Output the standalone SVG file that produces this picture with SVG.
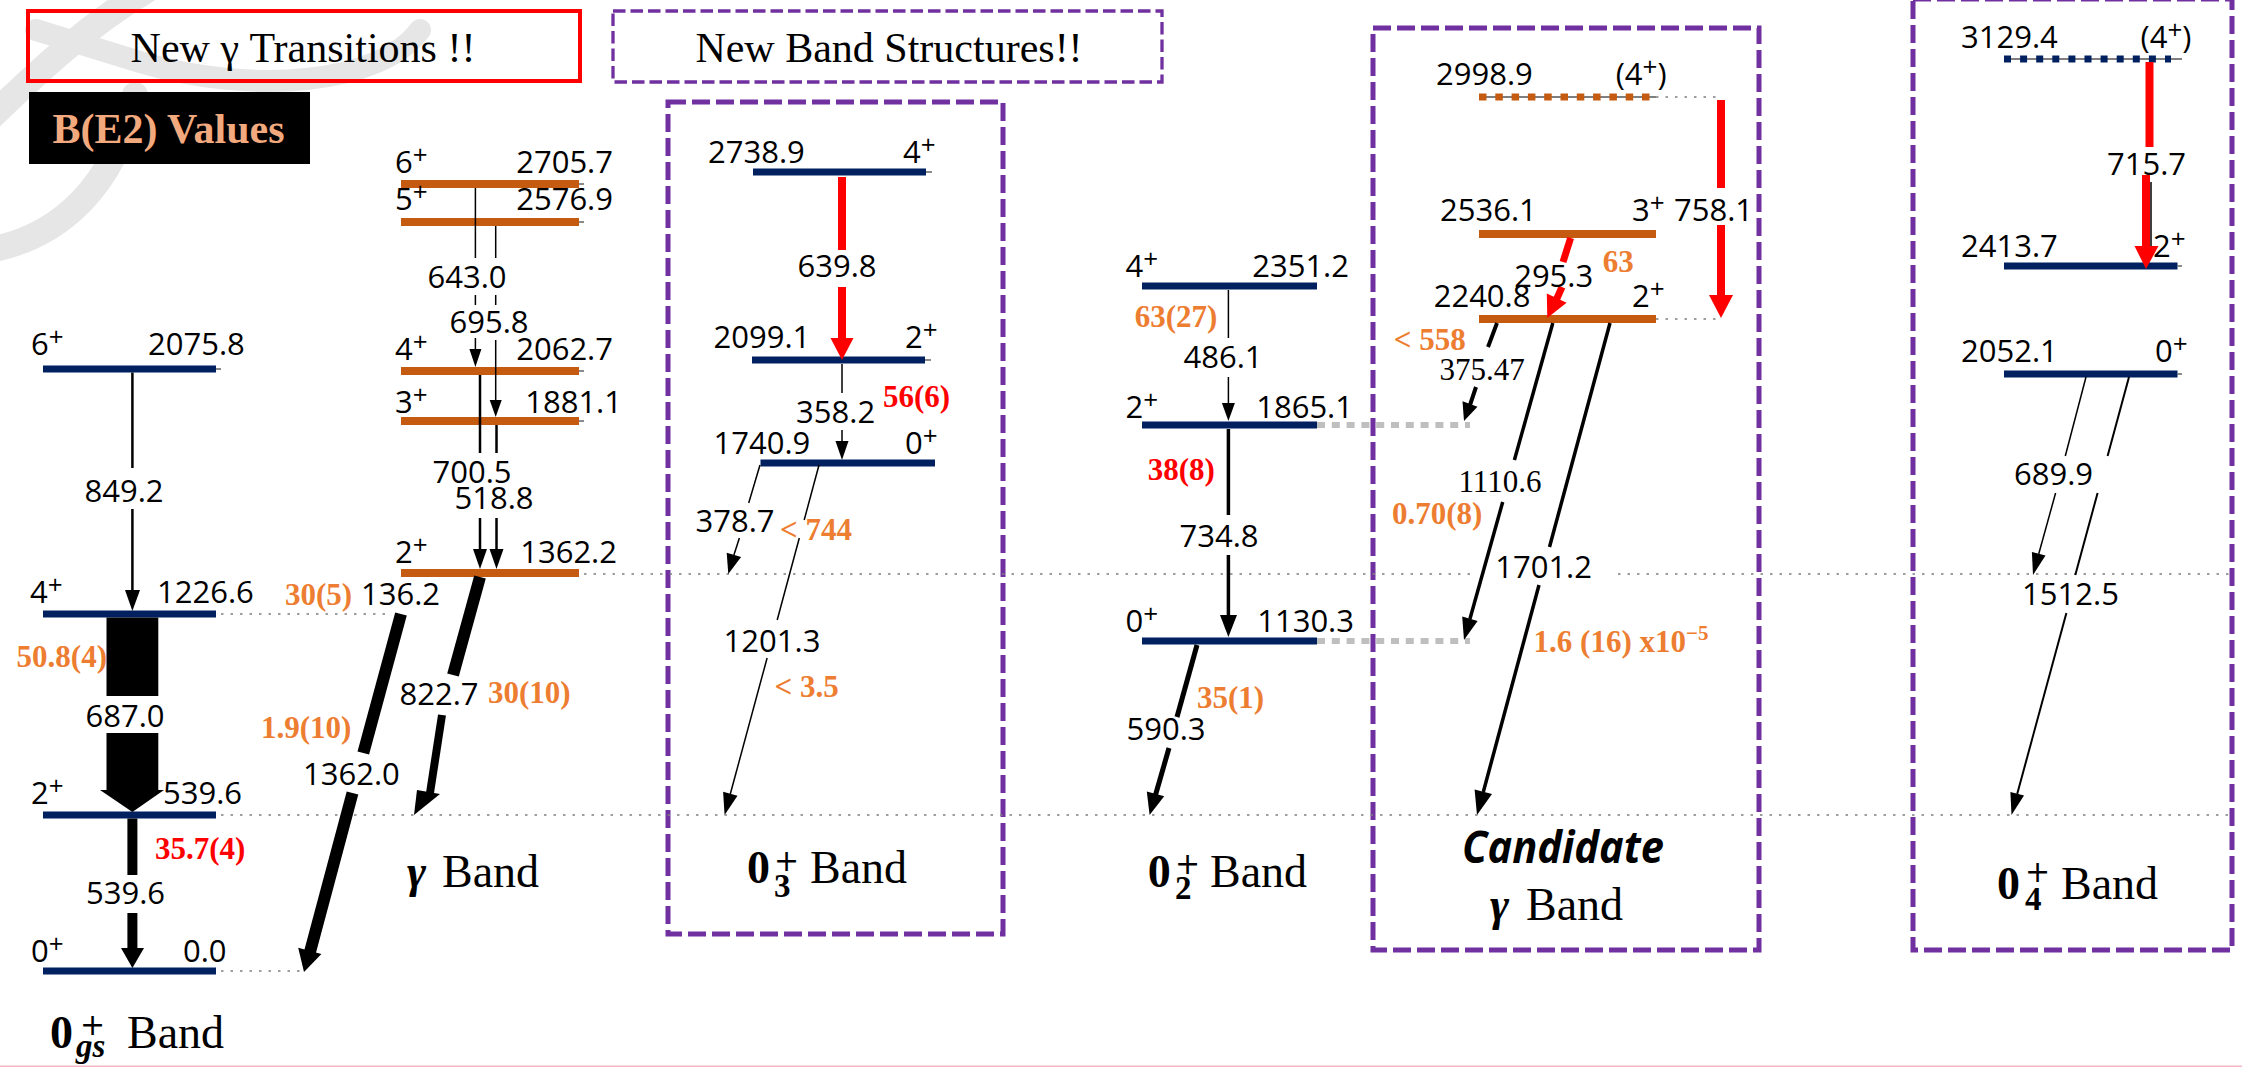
<svg xmlns="http://www.w3.org/2000/svg" width="2242" height="1067" viewBox="0 0 2242 1067">
<style>
  .bg { fill:#ffffff; }
  .wm { fill:none; stroke:#E6E6E6; stroke-linecap:round; }
  .box { fill:none; stroke:#7030A0; stroke-width:5; stroke-dasharray:18 6; }
  .tbox { fill:none; stroke:#7030A0; stroke-width:3.3; stroke-dasharray:12.5 5; }
  .lb { stroke:#002060; stroke-width:7; }
  .lo { stroke:#C55A11; stroke-width:8; }
  .tick { stroke:#404040; stroke-width:1.2; }
  .dot { stroke:#7F7F7F; stroke-width:1.5; stroke-dasharray:2.5 7; fill:none; }
  .gdot { stroke:#BFBFBF; stroke-width:6; stroke-dasharray:8 6.8; }
  .t1 { stroke:#000; stroke-width:1.5; }
  .t2 { stroke:#000; stroke-width:2.5; }
  .t3 { stroke:#000; stroke-width:3.5; }
  .t5 { stroke:#000; stroke-width:5; }
  .tr { stroke:#FF0000; stroke-width:8; }
  .hk { fill:#000; }
  .hr { fill:#FF0000; }
  .lab { font-family:"Open Sans","DejaVu Sans",sans-serif; font-size:31px; fill:#000; }
  .serif { font-family:"Liberation Serif","Times New Roman",serif; font-size:31px; fill:#000; }
  .sup { font-size:26px; }
  .val { font-family:"Liberation Serif","Times New Roman",serif; font-weight:bold; font-size:31px; }
  .or { fill:#ED7D31; }
  .rd { fill:#FF0000; }
  .mid { text-anchor:middle; }
  .end { text-anchor:end; }
  .bz { font-family:"Liberation Serif",serif; font-weight:bold; font-size:46px; fill:#000; }
  .bp { font-family:"DejaVu Sans",sans-serif; font-size:30px; fill:#000; }
  .bs { font-family:"Liberation Serif",serif; font-weight:bold; font-size:33px; fill:#000; }
  .bn { font-family:"Liberation Serif",serif; font-size:46px; fill:#000; }
  .title { font-family:"Liberation Serif",serif; font-size:42px; fill:#000; text-anchor:middle; }
</style>

<rect class="bg" x="0" y="0" width="2242" height="1067"/>

<!-- faint logo strokes in the top-left corner -->
<g id="logo-watermark">
  <path class="wm" stroke-width="26" d="M -10 118 C 30 80, 80 30, 150 -12"/>
  <path class="wm" stroke-width="22" d="M 36 30 L 140 62 C 250 95, 380 85, 420 30"/>
  <path class="wm" stroke-width="26" d="M -12 250 C 60 238, 115 185, 135 95"/>
</g>

<!-- headline boxes -->
<g id="note-new-transitions">
  <rect x="28" y="11" width="552" height="70" fill="none" stroke="#FF0000" stroke-width="4"/>
  <text class="title" x="303" y="62">New γ Transitions !!</text>
</g>
<g id="note-be2">
  <rect x="29" y="92" width="281" height="72" fill="#000"/>
  <text x="168.5" y="143" text-anchor="middle" font-family="Liberation Serif, serif" font-weight="bold" font-size="42" fill="#F2A97E">B(E2) Values</text>
</g>
<g id="note-new-bands">
  <rect class="tbox" x="613" y="11" width="549" height="71"/>
  <text class="title" x="889" y="62">New Band Structures!!</text>
</g>

<!-- dashed frames around the new bands -->
<rect id="frame-03" class="box" x="668" y="102" width="335" height="832"/>
<rect id="frame-cand" class="box" x="1373" y="28" width="386" height="922"/>
<rect id="frame-04" class="box" x="1913" y="-1" width="319" height="951"/>

<!-- level guide lines -->
<g id="guides">
  <line class="dot" x1="221" y1="614" x2="392" y2="614"/>
  <line class="dot" x1="221" y1="815" x2="2232" y2="815"/>
  <line class="dot" x1="221" y1="971" x2="304" y2="971"/>
  <line class="dot" x1="584" y1="574" x2="1475" y2="574"/>
  <line class="dot" x1="1618" y1="574" x2="2232" y2="574"/>
  <line class="dot" x1="1656" y1="97" x2="1721" y2="97"/>
  <line class="dot" x1="1656" y1="319" x2="1721" y2="319"/>
  <line class="gdot" x1="1317" y1="425" x2="1470" y2="425"/>
  <line class="gdot" x1="1317" y1="641" x2="1470" y2="641"/>
</g>

<!-- ground-state band -->
<g id="band-gs">
  <line class="lb" x1="43" y1="369" x2="216" y2="369"/>
  <line class="lb" x1="43" y1="614" x2="216" y2="614"/>
  <line class="lb" x1="43" y1="815" x2="216" y2="815"/>
  <line class="lb" x1="43" y1="971" x2="216" y2="971"/>
  <line class="tick" x1="216" y1="369" x2="221" y2="369"/>
  <text class="lab" x="31" y="355">6<tspan class="sup" dy="-9">+</tspan></text>
  <text class="lab" x="148" y="355">2075.8</text>
  <text class="lab" x="30" y="603">4<tspan class="sup" dy="-9">+</tspan></text>
  <text class="lab" x="157" y="603">1226.6</text>
  <text class="lab" x="31" y="804">2<tspan class="sup" dy="-9">+</tspan></text>
  <text class="lab" x="163" y="804">539.6</text>
  <text class="lab" x="31" y="962">0<tspan class="sup" dy="-9">+</tspan></text>
  <text class="lab" x="183" y="962">0.0</text>
  <text class="bz" x="50" y="1048">0</text>
  <text class="bp" x="80" y="1035">+</text>
  <text class="bs" x="76" y="1057" font-style="italic">gs</text>
  <text class="bn" x="127" y="1048">Band</text>
</g>

<!-- gamma band -->
<g id="band-gamma">
  <line class="lo" x1="401" y1="184" x2="579" y2="184"/>
  <line class="lo" x1="401" y1="222" x2="579" y2="222"/>
  <line class="lo" x1="401" y1="371" x2="579" y2="371"/>
  <line class="lo" x1="401" y1="421" x2="579" y2="421"/>
  <line class="lo" x1="401" y1="573" x2="579" y2="573"/>
  <line class="tick" x1="579" y1="184" x2="584" y2="184"/>
  <line class="tick" x1="579" y1="222" x2="584" y2="222"/>
  <line class="tick" x1="579" y1="371" x2="584" y2="371"/>
  <line class="tick" x1="579" y1="421" x2="584" y2="421"/>
  <text class="lab" x="395" y="173">6<tspan class="sup" dy="-9">+</tspan></text>
  <text class="lab end" x="613" y="173">2705.7</text>
  <text class="lab" x="395" y="210">5<tspan class="sup" dy="-9">+</tspan></text>
  <text class="lab end" x="613" y="210">2576.9</text>
  <text class="lab" x="395" y="360">4<tspan class="sup" dy="-9">+</tspan></text>
  <text class="lab end" x="613" y="360">2062.7</text>
  <text class="lab" x="395" y="413">3<tspan class="sup" dy="-9">+</tspan></text>
  <text class="lab end" x="622" y="413">1881.1</text>
  <text class="lab" x="395" y="563">2<tspan class="sup" dy="-9">+</tspan></text>
  <text class="lab end" x="617" y="563">1362.2</text>
  <text x="407" y="887" font-family="Liberation Serif, serif" font-weight="bold" font-style="italic" font-size="46">γ</text>
  <text class="bn" x="442" y="887">Band</text>
</g>

<!-- 0+3 band -->
<g id="band-03">
  <line class="lb" x1="753" y1="172" x2="926" y2="172"/>
  <line class="lb" x1="752" y1="360" x2="925" y2="360"/>
  <line class="lb" x1="760.5" y1="463" x2="935" y2="463"/>
  <line class="tick" x1="926" y1="172" x2="932" y2="172"/>
  <line class="tick" x1="925" y1="360" x2="931" y2="360"/>
  <text class="lab" x="708" y="163">2738.9</text>
  <text class="lab" x="903" y="163">4<tspan class="sup" dy="-9">+</tspan></text>
  <text class="lab" x="713.5" y="348">2099.1</text>
  <text class="lab" x="905" y="348">2<tspan class="sup" dy="-9">+</tspan></text>
  <text class="lab" x="713.5" y="454">1740.9</text>
  <text class="lab" x="905" y="454">0<tspan class="sup" dy="-9">+</tspan></text>
  <text class="bz" x="747" y="883">0</text>
  <text class="bp" x="774" y="871">+</text>
  <text class="bs" x="774" y="897">3</text>
  <text class="bn" x="810" y="883">Band</text>
</g>

<!-- 0+2 band -->
<g id="band-02">
  <line class="lb" x1="1142" y1="286" x2="1317" y2="286"/>
  <line class="lb" x1="1142" y1="425" x2="1317" y2="425"/>
  <line class="lb" x1="1142" y1="641" x2="1317" y2="641"/>
  <text class="lab" x="1125.5" y="277">4<tspan class="sup" dy="-9">+</tspan></text>
  <text class="lab end" x="1349" y="277">2351.2</text>
  <text class="lab" x="1125.5" y="418">2<tspan class="sup" dy="-9">+</tspan></text>
  <text class="lab end" x="1353" y="418">1865.1</text>
  <text class="lab" x="1125.5" y="632">0<tspan class="sup" dy="-9">+</tspan></text>
  <text class="lab end" x="1354" y="632">1130.3</text>
  <text class="bz" x="1147.7" y="887">0</text>
  <text class="bp" x="1175" y="874">+</text>
  <text class="bs" x="1175" y="899">2</text>
  <text class="bn" x="1210" y="887">Band</text>
</g>

<!-- candidate gamma band -->
<g id="band-cand">
  <line stroke="#000" stroke-width="1.2" x1="1479" y1="97" x2="1656" y2="97"/>
  <line stroke="#C55A11" stroke-width="7" stroke-dasharray="7.5 8.8" x1="1479" y1="97" x2="1656" y2="97"/>
  <line class="lo" x1="1479" y1="234" x2="1656" y2="234"/>
  <line class="lo" x1="1479" y1="319" x2="1656" y2="319"/>
  <text class="lab" x="1436" y="85">2998.9</text>
  <text class="lab" x="1615.7" y="85">(4<tspan class="sup" dy="-9">+</tspan><tspan dy="9">)</tspan></text>
  <text class="lab" x="1440" y="221">2536.1</text>
  <text class="lab" x="1632" y="221">3<tspan class="sup" dy="-9">+</tspan></text>
  <text class="lab" x="1433.7" y="307">2240.8</text>
  <text class="lab" x="1632" y="307">2<tspan class="sup" dy="-9">+</tspan></text>
  <text x="1563" y="863" text-anchor="middle" font-family="Open Sans, sans-serif" font-weight="bold" font-style="italic" font-size="44" textLength="202" lengthAdjust="spacingAndGlyphs">Candidate</text>
  <text x="1490" y="920" font-family="Liberation Serif, serif" font-weight="bold" font-style="italic" font-size="46">γ</text>
  <text class="bn" x="1526" y="920">Band</text>
</g>

<!-- 0+4 band -->
<g id="band-04">
  <line stroke="#000" stroke-width="1.2" x1="2004" y1="59" x2="2182" y2="59"/>
  <line stroke="#002060" stroke-width="7" stroke-dasharray="7 9.1" x1="2004" y1="59" x2="2171" y2="59"/>
  <line class="lb" x1="2004" y1="266" x2="2177.5" y2="266"/>
  <line class="lb" x1="2004" y1="374" x2="2177.5" y2="374"/>
  <line class="tick" x1="2177.5" y1="266" x2="2182" y2="266"/>
  <line class="tick" x1="2177.5" y1="374" x2="2182" y2="374"/>
  <text class="lab" x="1961" y="48">3129.4</text>
  <text class="lab" x="2140.6" y="48">(4<tspan class="sup" dy="-9">+</tspan><tspan dy="9">)</tspan></text>
  <text class="lab" x="1961" y="257">2413.7</text>
  <text class="lab" x="2153" y="257">2<tspan class="sup" dy="-9">+</tspan></text>
  <text class="lab" x="1961" y="362">2052.1</text>
  <text class="lab" x="2155" y="362">0<tspan class="sup" dy="-9">+</tspan></text>
  <text class="bz" x="1997" y="899">0</text>
  <text class="bp" x="2025" y="882">+</text>
  <text class="bs" x="2025" y="910">4</text>
  <text class="bn" x="2061" y="899">Band</text>
</g>

<!-- gamma-ray transitions -->
<g id="connectors">
  <!-- ground-state band -->
  <line class="t2" x1="132.4" y1="372.5" x2="132.4" y2="468"/>
  <line class="t2" x1="132.4" y1="509" x2="132.4" y2="592"/>
  <polygon class="hk" points="125,590 140,590 132.4,611"/>
  <polygon class="hk" points="106.5,617.5 158.3,617.5 158.3,696 106.5,696"/>
  <polygon class="hk" points="106.5,733 158.3,733 158.3,790 164,790 132.4,812 100,790 106.5,790"/>
  <line stroke="#000" stroke-width="10" x1="132.4" y1="818.5" x2="132.4" y2="875"/>
  <line stroke="#000" stroke-width="10" x1="132.4" y1="913" x2="132.4" y2="950"/>
  <polygon class="hk" points="121,948 144,948 132.4,968"/>

  <!-- gamma band in-band -->
  <line class="t1" x1="475.4" y1="188" x2="475.4" y2="258"/>
  <line class="t1" x1="475.4" y1="295" x2="475.4" y2="305"/>
  <line class="t1" x1="475.4" y1="338" x2="475.4" y2="350"/>
  <polygon class="hk" points="469.4,349 481.4,349 475.4,367"/>
  <line class="t1" x1="495.7" y1="226" x2="495.7" y2="258"/>
  <line class="t1" x1="495.7" y1="295" x2="495.7" y2="305"/>
  <line class="t1" x1="495.7" y1="340" x2="495.7" y2="402"/>
  <polygon class="hk" points="489.7,400 501.7,400 495.7,417"/>
  <line class="t2" x1="480" y1="375" x2="480" y2="453"/>
  <line class="t2" x1="480" y1="518" x2="480" y2="551"/>
  <polygon class="hk" points="473,549 487,549 480,569"/>
  <line class="t2" x1="496.5" y1="425" x2="496.5" y2="453"/>
  <line class="t2" x1="496.5" y1="518" x2="496.5" y2="551"/>
  <polygon class="hk" points="489.5,549 503.5,549 496.5,569"/>

  <!-- gamma band to ground band -->
  <line stroke="#000" stroke-width="12" x1="480" y1="577" x2="453" y2="675"/>
  <line stroke="#000" stroke-width="8" x1="442" y1="715" x2="430" y2="793"/>
  <polygon class="hk" points="417,790 440,794 414,815"/>
  <line stroke="#000" stroke-width="12" x1="401" y1="614" x2="363.3" y2="753"/>
  <line stroke="#000" stroke-width="12" x1="352.5" y1="793" x2="310" y2="952"/>
  <polygon class="hk" points="321.4,954 298.2,947.7 304,972"/>

  <!-- 0+3 band -->
  <line class="tr" x1="842" y1="177" x2="842" y2="250"/>
  <line class="tr" x1="842" y1="287" x2="842" y2="340"/>
  <polygon class="hr" points="830.5,338 853.5,338 842,360"/>
  <line class="t1" x1="842" y1="364" x2="842" y2="393"/>
  <line class="t1" x1="842" y1="430" x2="842" y2="442"/>
  <polygon class="hk" points="835.5,441 848.5,441 842,460"/>
  <line class="t1" x1="760" y1="465" x2="748.7" y2="503"/>
  <line class="t1" x1="739.4" y1="538" x2="733.9" y2="555"/>
  <polygon class="hk" points="741.1,556.9 726.7,552.7 728.3,574"/>
  <line class="t1" x1="819" y1="465" x2="804.2" y2="520"/>
  <line class="t1" x1="799.3" y1="538" x2="777.2" y2="620"/>
  <line class="t1" x1="767.1" y1="658" x2="730.3" y2="794"/>
  <polygon class="hk" points="737.5,795.8 723.1,791.8 724.6,815"/>

  <!-- 0+2 band -->
  <line class="t1" x1="1228.4" y1="290" x2="1228.4" y2="338"/>
  <line class="t1" x1="1228.4" y1="377" x2="1228.4" y2="405"/>
  <polygon class="hk" points="1221.9,403 1234.9,403 1228.4,421"/>
  <line class="t3" x1="1228.4" y1="429" x2="1228.4" y2="515"/>
  <line class="t3" x1="1228.4" y1="555" x2="1228.4" y2="617"/>
  <polygon class="hk" points="1220,615 1237,615 1228.4,637"/>
  <line class="t5" x1="1197" y1="645" x2="1177" y2="717"/>
  <line class="t5" x1="1169" y1="748" x2="1155.5" y2="795"/>
  <polygon class="hk" points="1164.2,796.2 1146.8,791.4 1149.6,815"/>

  <!-- candidate gamma band -->
  <line class="tr" x1="1721" y1="100" x2="1721" y2="188"/>
  <line class="tr" x1="1721" y1="225" x2="1721" y2="297"/>
  <polygon class="hr" points="1709,295 1733,295 1721,318"/>
  <line stroke="#FF0000" stroke-width="7" x1="1570.6" y1="238" x2="1563" y2="262"/>
  <line stroke="#FF0000" stroke-width="7" x1="1562" y1="287" x2="1556.7" y2="299"/>
  <polygon class="hr" points="1566.6,302.8 1546.8,293.4 1547.3,318"/>
  <line stroke="#000" stroke-width="4" x1="1497" y1="323" x2="1488" y2="347"/>
  <line stroke="#000" stroke-width="4" x1="1476" y1="387" x2="1470" y2="405"/>
  <polygon class="hk" points="1477.5,406.7 1462.5,401.3 1464,421"/>
  <line class="t3" x1="1552.8" y1="323" x2="1514.4" y2="460"/>
  <line class="t3" x1="1502.7" y1="502" x2="1469.9" y2="619"/>
  <polygon class="hk" points="1477.6,621 1462.2,616.6 1464,640"/>
  <line class="t3" x1="1610" y1="323" x2="1549.5" y2="547"/>
  <line class="t3" x1="1539" y1="585" x2="1483.3" y2="792"/>
  <polygon class="hk" points="1492,794.1 1474.6,789.5 1477,815"/>

  <!-- 0+4 band -->
  <line class="tr" x1="2149.5" y1="62" x2="2149.5" y2="147"/>
  <line class="t1" stroke="#555" x1="2151" y1="182" x2="2151" y2="250"/>
  <line class="tr" x1="2146" y1="175" x2="2146" y2="248"/>
  <polygon class="hr" points="2134.5,246 2158.5,246 2146,269"/>
  <line class="t1" x1="2086" y1="377" x2="2065.3" y2="456"/>
  <line class="t1" x1="2055.6" y1="493" x2="2038.7" y2="554"/>
  <polygon class="hk" points="2045.5,555.5 2031.9,551.9 2033,575"/>
  <line stroke="#000" stroke-width="2" x1="2129" y1="377" x2="2107.6" y2="456"/>
  <line stroke="#000" stroke-width="2" x1="2097.6" y1="493" x2="2075.3" y2="575"/>
  <line stroke="#000" stroke-width="2" x1="2066.4" y1="613" x2="2017.2" y2="794"/>
  <polygon class="hk" points="2024,795.5 2010.4,791.9 2011.5,815"/>
</g>

<!-- transition energies and B(E2) values -->
<g id="transition-labels">
  <text class="lab mid" x="124" y="502">849.2</text>
  <text class="lab mid" x="125" y="727">687.0</text>
  <text class="lab mid" x="125.5" y="904">539.6</text>
  <text class="lab mid" x="467" y="288">643.0</text>
  <text class="lab mid" x="489" y="333">695.8</text>
  <text class="lab mid" x="472" y="483">700.5</text>
  <text class="lab mid" x="494" y="509">518.8</text>
  <text class="lab" x="399.5" y="705">822.7</text>
  <text class="lab" x="361" y="605">136.2</text>
  <text class="lab" x="303" y="785">1362.0</text>
  <text class="lab mid" x="837" y="277">639.8</text>
  <text class="lab mid" x="835.6" y="423">358.2</text>
  <text class="lab mid" x="735" y="532">378.7</text>
  <text class="lab mid" x="772" y="652">1201.3</text>
  <text class="lab mid" x="1223" y="368">486.1</text>
  <text class="lab mid" x="1219" y="547">734.8</text>
  <text class="lab mid" x="1166" y="740">590.3</text>
  <text class="lab mid" x="1553.7" y="287">295.3</text>
  <text class="serif mid" x="1482" y="380">375.47</text>
  <text class="serif mid" x="1500" y="492">1110.6</text>
  <text class="lab mid" x="1543.6" y="578">1701.2</text>
  <text class="lab end" x="1753" y="221">758.1</text>
  <text class="lab mid" x="2146.5" y="175">715.7</text>
  <text class="lab mid" x="2053.5" y="485">689.9</text>
  <text class="lab mid" x="2070.5" y="605">1512.5</text>

  <text class="val or" x="16.6" y="667">50.8(4)</text>
  <text class="val rd" x="155" y="859">35.7(4)</text>
  <text class="val or" x="285" y="605">30(5)</text>
  <text class="val or" x="261" y="738">1.9(10)</text>
  <text class="val or" x="488" y="703">30(10)</text>
  <text class="val rd" x="883" y="407">56(6)</text>
  <text class="val or" x="780" y="540">&lt; 744</text>
  <text class="val or" x="774.6" y="697">&lt; 3.5</text>
  <text class="val or" x="1134.8" y="327">63(27)</text>
  <text class="val rd" x="1147.7" y="480">38(8)</text>
  <text class="val or" x="1197" y="708">35(1)</text>
  <text class="val or" x="1602.8" y="272" font-size="35">63</text>
  <text class="val or" x="1393.8" y="350">&lt; 558</text>
  <text class="val or" x="1392" y="524">0.70(8)</text>
  <text class="val or" x="1533.6" y="652">1.6 (16) x10<tspan font-size="21" dy="-12">−5</tspan></text>
</g>

<line x1="0" y1="1066.2" x2="2242" y2="1066.2" stroke="#F4B6C4" stroke-width="1.5"/>
</svg>
